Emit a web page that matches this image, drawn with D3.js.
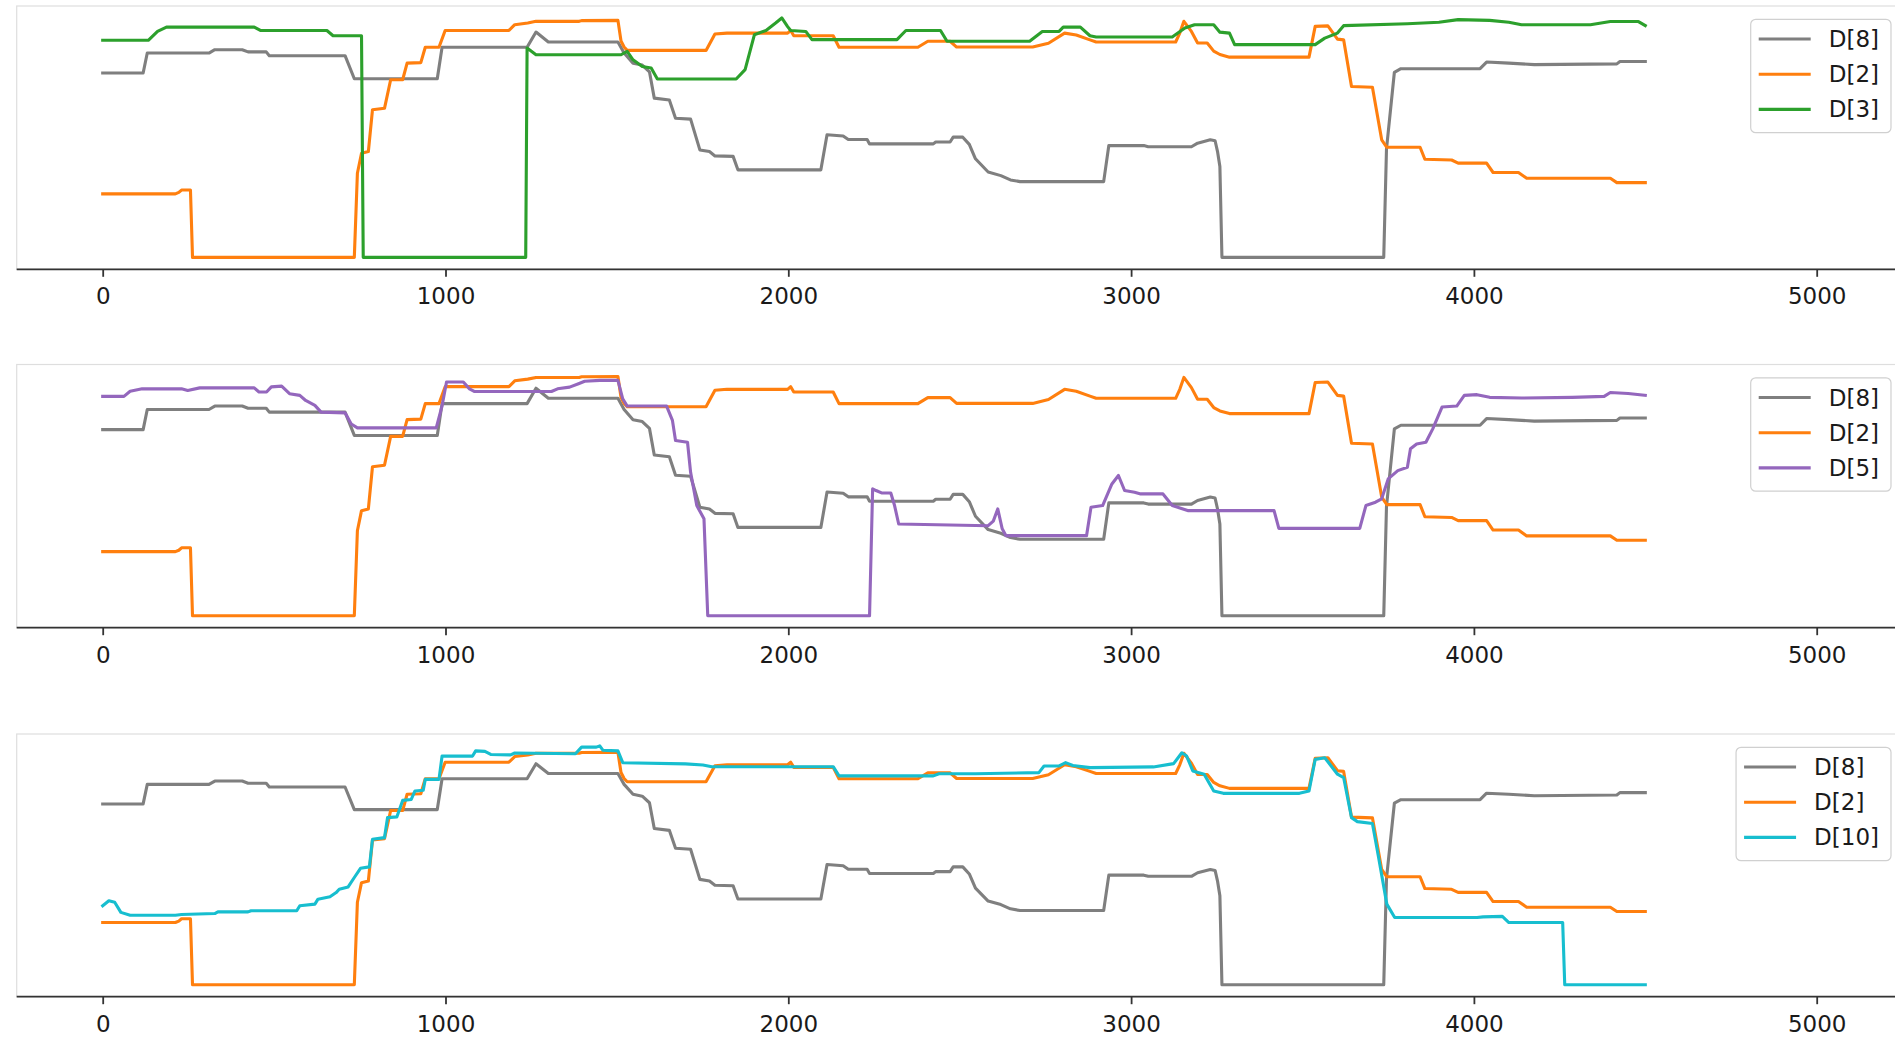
<!DOCTYPE html>
<html>
<head>
<meta charset="utf-8">
<script src="https://cdn.jsdelivr.net/npm/d3@7"></script>
<style>
  html, body { margin: 0; padding: 0; background: #fff; overflow: hidden; }
  svg { display: block; font-family: "DejaVu Sans", sans-serif; }
</style>
</head>
<body>
<svg id="chart" width="1895" height="1042"></svg>
<script>
// ---------- data (x = sample index, y = signal level) ----------
const xTicks = [0, 1000, 2000, 3000, 4000, 5000];

const d8 = [[0,0.767],[118,0.767],[130,0.85],[310,0.85],[327,0.864],[407,0.864],[424,0.855],[477,0.855],[486,0.839],[707,0.839],[734,0.743],[976,0.743],[990,0.874],[1238,0.874],[1264,0.9375],[1300,0.896],[1503,0.896],[1521,0.85],[1547,0.808],[1574,0.8],[1595,0.772],[1609,0.6625],[1653,0.655],[1671,0.579],[1715,0.575],[1742,0.447],[1770,0.44],[1786,0.422],[1839,0.42],[1853,0.364],[2095,0.364],[2113,0.51],[2160,0.505],[2175,0.49],[2230,0.49],[2237,0.472],[2423,0.472],[2430,0.48],[2472,0.48],[2481,0.5],[2509,0.5],[2528,0.47],[2546,0.41],[2583,0.355],[2620,0.34],[2648,0.322],[2676,0.315],[2920,0.315],[2935,0.465],[3037,0.465],[3050,0.46],[3176,0.46],[3194,0.475],[3231,0.489],[3245,0.485],[3252,0.441],[3259,0.378],[3265,0],[3737,0],[3745,0.45],[3768,0.77],[3787,0.785],[4018,0.785],[4037,0.8125],[4102,0.808],[4176,0.802],[4417,0.805],[4426,0.815],[4500,0.815]];

const d2 = [[0,0.264],[212,0.264],[222,0.27],[230,0.28],[256,0.28],[262,0],[734,0],[743,0.35],[755,0.433],[775,0.44],[787,0.614],[822,0.62],[840,0.739],[875,0.739],[888,0.808],[928,0.81],[941,0.874],[981,0.874],[999,0.944],[1185,0.944],[1202,0.968],[1240,0.975],[1264,0.982],[1390,0.982],[1397,0.985],[1503,0.986],[1512,0.9],[1521,0.875],[1530,0.861],[1760,0.861],[1786,0.929],[1821,0.933],[1998,0.933],[2007,0.944],[2016,0.922],[2131,0.922],[2148,0.874],[2378,0.874],[2407,0.899],[2472,0.899],[2491,0.875],[2713,0.875],[2759,0.891],[2806,0.933],[2840,0.925],[2880,0.905],[2898,0.896],[3130,0.896],[3142,0.933],[3154,0.982],[3176,0.94],[3194,0.892],[3222,0.892],[3241,0.858],[3259,0.844],[3287,0.833],[3519,0.833],[3537,0.961],[3574,0.963],[3602,0.908],[3620,0.905],[3643,0.711],[3704,0.708],[3731,0.489],[3746,0.458],[3843,0.458],[3857,0.408],[3935,0.405],[3954,0.392],[4037,0.392],[4056,0.353],[4130,0.353],[4154,0.329],[4398,0.329],[4417,0.311],[4500,0.311]];

const d3v = [[0,0.903],[133,0.903],[160,0.94],[186,0.958],[442,0.958],[460,0.944],[654,0.944],[672,0.922],[755,0.922],[760,0],[1234,0],[1238,0.871],[1264,0.843],[1512,0.843],[1530,0.857],[1547,0.822],[1574,0.794],[1600,0.788],[1618,0.742],[1848,0.742],[1874,0.781],[1901,0.926],[1935,0.944],[1963,0.975],[1981,0.996],[1998,0.96],[2007,0.944],[2051,0.94],[2069,0.906],[2317,0.906],[2343,0.944],[2444,0.944],[2463,0.899],[2704,0.899],[2741,0.94],[2790,0.94],[2802,0.958],[2852,0.958],[2880,0.922],[2898,0.917],[3120,0.917],[3157,0.954],[3185,0.968],[3241,0.968],[3259,0.937],[3287,0.933],[3302,0.885],[3537,0.885],[3565,0.912],[3602,0.933],[3620,0.964],[3806,0.972],[3898,0.978],[3954,0.989],[4046,0.986],[4102,0.978],[4139,0.968],[4340,0.968],[4398,0.981],[4480,0.981],[4500,0.964]];

const d5 = [[0,0.904],[62,0.904],[80,0.925],[115,0.935],[230,0.935],[248,0.928],[283,0.939],[442,0.939],[456,0.922],[478,0.922],[492,0.943],[522,0.946],[545,0.915],[575,0.908],[592,0.887],[619,0.867],[637,0.839],[707,0.836],[725,0.79],[743,0.774],[973,0.774],[990,0.865],[1003,0.963],[1052,0.963],[1070,0.935],[1085,0.924],[1309,0.924],[1327,0.935],[1362,0.942],[1388,0.956],[1406,0.966],[1450,0.97],[1503,0.97],[1517,0.894],[1530,0.864],[1645,0.864],[1662,0.805],[1671,0.722],[1706,0.715],[1715,0.591],[1733,0.454],[1754,0.4],[1765,0],[2237,0],[2246,0.523],[2256,0.516],[2272,0.506],[2299,0.506],[2310,0.454],[2322,0.378],[2583,0.371],[2598,0.39],[2611,0.44],[2624,0.358],[2635,0.33],[2870,0.33],[2883,0.447],[2917,0.454],[2944,0.543],[2963,0.578],[2981,0.516],[3010,0.509],[3028,0.502],[3093,0.502],[3120,0.454],[3167,0.433],[3417,0.433],[3431,0.36],[3667,0.36],[3685,0.454],[3713,0.468],[3731,0.482],[3750,0.564],[3778,0.598],[3806,0.612],[3815,0.688],[3833,0.708],[3860,0.715],[3880,0.77],[3907,0.86],[3950,0.864],[3972,0.908],[4009,0.911],[4046,0.9],[4139,0.897],[4287,0.9],[4380,0.904],[4398,0.92],[4450,0.916],[4500,0.908]];

const d10 = [[0,0.335],[18,0.356],[35,0.35],[53,0.307],[80,0.295],[212,0.295],[230,0.298],[327,0.302],[336,0.309],[424,0.309],[433,0.314],[566,0.314],[575,0.335],[619,0.342],[628,0.363],[663,0.373],[681,0.391],[690,0.405],[716,0.415],[734,0.455],[752,0.494],[778,0.5],[787,0.617],[822,0.624],[831,0.709],[858,0.712],[875,0.782],[900,0.786],[911,0.822],[935,0.825],[941,0.871],[981,0.871],[990,0.97],[1079,0.97],[1088,0.992],[1115,0.99],[1132,0.977],[1190,0.975],[1202,0.983],[1379,0.98],[1397,1.008],[1440,1.008],[1450,1.013],[1459,0.995],[1503,0.992],[1517,0.942],[1700,0.937],[1751,0.932],[1777,0.925],[2131,0.925],[2148,0.886],[2423,0.886],[2440,0.895],[2546,0.895],[2731,0.9],[2746,0.928],[2790,0.928],[2809,0.942],[2830,0.93],[2880,0.921],[3065,0.924],[3124,0.938],[3148,0.984],[3162,0.97],[3180,0.907],[3213,0.893],[3241,0.822],[3269,0.812],[3491,0.812],[3519,0.822],[3537,0.956],[3565,0.963],[3602,0.893],[3620,0.879],[3643,0.709],[3660,0.692],[3704,0.684],[3722,0.54],[3746,0.342],[3769,0.285],[4009,0.285],[4027,0.288],[4083,0.29],[4102,0.264],[4259,0.264],[4265,0],[4500,0]];

const panelNames = [["D[8]", "D[2]", "D[3]"], ["D[8]", "D[2]", "D[5]"], ["D[8]", "D[2]", "D[10]"]];
const seriesData = { "D[8]": d8, "D[2]": d2, "D[3]": d3v, "D[5]": d5, "D[10]": d10 };
const seriesColor = { "D[8]": "#7f7f7f", "D[2]": "#ff7f0e", "D[3]": "#2ca02c", "D[5]": "#9467bd", "D[10]": "#17becf" };

// ---------- layout ----------
const W = 1895, H = 1042;
const frameLeft = 16.7, frameRight = 1906;
const panelTops = [6, 364.5, 734];
const panelBottoms = [269.3, 627.7, 996.7];
const fontSize = 23;

const svg = d3.select("#chart");
const x = d3.scaleLinear().domain([0, 5000]).range([102.7, 1816.7]);

panelNames.forEach((names, pi) => {
  const top = panelTops[pi], bottom = panelBottoms[pi];
  const g = svg.append("g");

  // y scale (autoscaled with 5% margins)
  const all = names.flatMap(n => seriesData[n].map(d => d[1]));
  const [lo, hi] = d3.extent(all);
  const pad = (hi - lo) * 0.05;
  const y = d3.scaleLinear().domain([lo - pad, hi + pad]).range([bottom, top]);

  // light frame (top / left)
  g.append("rect")
    .attr("x", frameLeft).attr("y", top)
    .attr("width", frameRight - frameLeft).attr("height", bottom - top)
    .attr("fill", "none").attr("stroke", "#dedede").attr("stroke-width", 1.2);

  // lines
  const line = d3.line().x(d => x(d[0])).y(d => y(d[1]));
  names.forEach(n => {
    g.append("path")
      .datum(seriesData[n])
      .attr("d", line)
      .attr("fill", "none")
      .attr("stroke", seriesColor[n])
      .attr("stroke-width", 3.1)
      .attr("stroke-linejoin", "round")
      .attr("stroke-linecap", "square");
  });

  // x axis
  const axis = d3.axisBottom(x).tickValues(xTicks).tickFormat(d3.format("d"))
    .tickSize(7.5).tickPadding(11);
  const ax = g.append("g").attr("transform", `translate(0,${bottom})`).call(axis);
  ax.select(".domain").remove();
  ax.append("line")
    .attr("x1", frameLeft).attr("x2", W + 20)
    .attr("y1", 0).attr("y2", 0)
    .attr("stroke", "#333").attr("stroke-width", 1.8);
  ax.selectAll(".tick line").attr("stroke", "#333").attr("stroke-width", 1.8);
  ax.selectAll(".tick text")
    .attr("font-size", fontSize)
    .attr("font-family", "DejaVu Sans")
    .attr("fill", "#1a1a1a");

  // legend
  const lg = g.append("g");
  const legTop = top + 13.3;
  const rowH = 35.2;
  const texts = names.map((n, i) =>
    lg.append("text")
      .attr("y", legTop + 19.7 + i * rowH)
      .attr("dominant-baseline", "central")
      .attr("font-size", fontSize)
      .attr("fill", "#1a1a1a")
      .text(n));
  const maxW = d3.max(texts, t => t.node().getComputedTextLength());
  const legRight = 1891;
  const legW = 8 + 52 + 18 + maxW + 12;
  const legLeft = legRight - legW;
  lg.insert("rect", ":first-child")
    .attr("x", legLeft).attr("y", legTop)
    .attr("width", legW).attr("height", 113.4)
    .attr("rx", 5).attr("ry", 5)
    .attr("fill", "#fff").attr("fill-opacity", 0.85)
    .attr("stroke", "#d0d0d0").attr("stroke-width", 1.2);
  names.forEach((n, i) => {
    const cy = legTop + 19.7 + i * rowH;
    lg.append("line")
      .attr("x1", legLeft + 8).attr("x2", legLeft + 60)
      .attr("y1", cy).attr("y2", cy)
      .attr("stroke", seriesColor[n]).attr("stroke-width", 3.1);
    texts[i].attr("x", legLeft + 78);
  });
});
</script>
</body>
</html>
